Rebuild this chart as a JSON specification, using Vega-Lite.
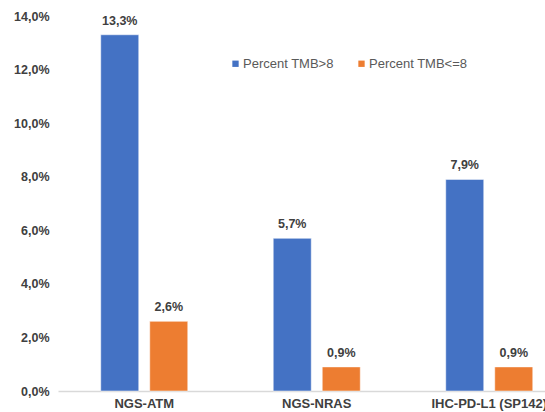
{
  "$schema": "https://vega.github.io/schema/vega-lite/v6.json",
  "autosize": {"type": "none"},
  "padding": {"left": 58, "top": 16, "right": 0, "bottom": 21},
  "width": 487,
  "height": 375,
  "background": "white",
  "data": {
    "values": [
      {"category": "NGS-ATM", "series": "Percent TMB>8", "pct": 13.3},
      {"category": "NGS-ATM", "series": "Percent TMB<=8", "pct": 2.6},
      {"category": "NGS-NRAS", "series": "Percent TMB>8", "pct": 5.7},
      {"category": "NGS-NRAS", "series": "Percent TMB<=8", "pct": 0.9},
      {"category": "IHC-PD-L1 (SP142)", "series": "Percent TMB>8", "pct": 7.9},
      {"category": "IHC-PD-L1 (SP142)", "series": "Percent TMB<=8", "pct": 0.9}
    ]
  },
  "transform": [
    {"calculate": "replace(format(datum.pct, '.1f'), '.', ',') + '%'", "as": "label"}
  ],
  "encoding": {
    "x": {
      "field": "category",
      "type": "nominal",
      "sort": null,
      "scale": {"range": [0, 517.5], "paddingInner": 0, "paddingOuter": 0},
      "axis": {
        "title": null,
        "labelAngle": 0,
        "ticks": false,
        "grid": false,
        "domainColor": "#D9D9D9",
        "domainWidth": 1.5,
        "labelFont": "Liberation Sans",
        "labelFontSize": 13,
        "labelFontWeight": "bold",
        "labelColor": "#404040",
        "labelPadding": 6
      }
    },
    "xOffset": {
      "field": "series",
      "type": "nominal",
      "sort": ["Percent TMB>8", "Percent TMB<=8"],
      "scale": {"paddingInner": 0.2245, "paddingOuter": 0.872}
    },
    "y": {
      "field": "pct",
      "type": "quantitative",
      "scale": {"domain": [0, 14], "nice": false},
      "axis": {
        "title": null,
        "values": [0, 2, 4, 6, 8, 10, 12, 14],
        "labelExpr": "replace(format(datum.value, '.1f'), '.', ',') + '%'",
        "domain": false,
        "ticks": false,
        "grid": false,
        "labelFont": "Liberation Sans",
        "labelFontSize": 12.5,
        "labelFontWeight": "bold",
        "labelColor": "#404040",
        "labelPadding": 9
      }
    }
  },
  "layer": [
    {
      "mark": {"type": "bar", "stroke": "white", "strokeWidth": 0.5},
      "encoding": {
        "color": {
          "field": "series",
          "type": "nominal",
          "scale": {
            "domain": ["Percent TMB>8", "Percent TMB<=8"],
            "range": ["#4472C4", "#ED7D31"]
          },
          "legend": {
            "title": null,
            "orient": "none",
            "direction": "horizontal",
            "legendX": 171,
            "legendY": 41,
            "padding": 0,
            "symbolType": "square",
            "symbolSize": 40,
            "symbolStrokeWidth": 0,
            "labelFont": "Liberation Sans",
            "labelFontSize": 13,
            "labelColor": "#595959",
            "labelOffset": 1,
            "columnPadding": 21
          }
        }
      }
    },
    {
      "mark": {
        "type": "text",
        "baseline": "alphabetic",
        "dy": -10,
        "font": "Liberation Sans",
        "fontSize": 12.5,
        "fontWeight": "bold",
        "color": "#404040"
      },
      "encoding": {
        "text": {"field": "label", "type": "nominal"}
      }
    }
  ],
  "config": {
    "view": {"stroke": null}
  }
}
